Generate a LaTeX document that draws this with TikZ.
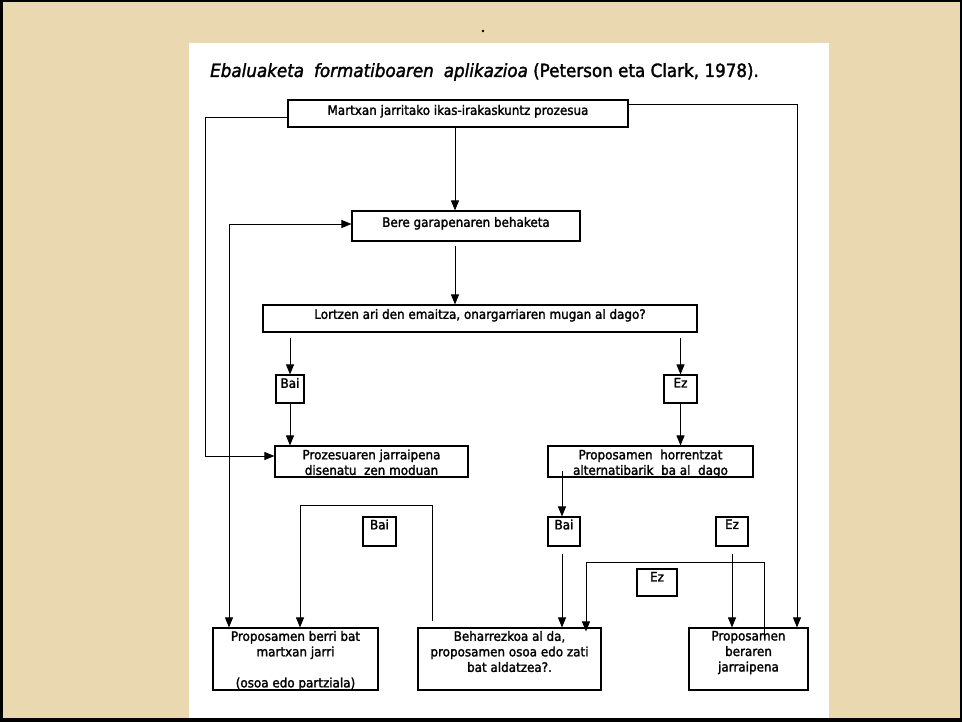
\documentclass[tikz,border=0pt]{standalone}
\usepackage{fontspec}
\setmainfont{DejaVu Sans}[FakeStretch=0.92,FakeBold=1.8]
\usetikzlibrary{arrows.meta}
\definecolor{parch}{RGB}{234,216,176}
\newcommand{\bt}[4][5pt]{\parbox[c][#3][t]{#2}{\centering\vspace*{#1}#4\par}}
\begin{document}
\begin{tikzpicture}[x=1pt,y=-1pt,
  box/.style={draw, line width=1.1pt, inner sep=0pt, fill=white, font=\fontsize{13}{15.5}\selectfont},
  arr/.style={draw, line width=0.9pt, -{Triangle[length=10pt,width=8pt]}},
  arrboth/.style={draw, line width=0.9pt, {Triangle[length=10pt,width=8pt]}-{Triangle[length=10pt,width=8pt]}}]
\useasboundingbox (0,0) rectangle (962,722);
\fill[parch] (0,0) rectangle (962,722);
\fill[white] (189,43) rectangle (829,719);
\draw[line width=2.5pt] (1.25,1.25) rectangle (960.75,720.75);
\fill[black] (0,718) rectangle (962,722);
\fill (483,31) circle (1.4pt);

\node[anchor=base west, inner sep=0pt, font=\fontsize{18.2}{21}\selectfont] (title) at (210,77)
  {\textit{Ebaluaketa\hspace{10pt}formatiboaren\hspace{10pt}aplikazioa} (Peterson eta Clark, 1978).};

% boxes
\node[box] (b1) at (458,113.5) {\bt{340pt}{27pt}{Martxan jarritako ikas-irakaskuntz prozesua}};
\node[box] (b2) at (466,226) {\bt[6pt]{228pt}{30pt}{Bere garapenaren behaketa}};
\node[box] (b3) at (480,318.5) {\bt[4pt]{434pt}{27pt}{Lortzen ari den emaitza, onargarriaren mugan al dago?}};
\node[box] (bai1) at (290,389) {\bt[3pt]{28pt}{28pt}{Bai}};
\node[box] (ez1) at (680.5,389) {\bt[3pt]{33pt}{28pt}{Ez}};
\node[box] (b6) at (371.5,461.5) {\bt[3.5pt]{193pt}{31pt}{Prozesuaren jarraipena\\disenatu\ \ zen moduan}};
\node[box] (b7) at (650.5,461.5) {\bt[3.5pt]{205pt}{31pt}{Proposamen\ \ horrentzat\\alternatibarik\ \ ba al\ \ dago}};
\node[box] (bai2) at (379.5,531.5) {\bt[2.5pt]{33pt}{29pt}{Bai}};
\node[box] (bai3) at (564,531.5) {\bt[2.5pt]{32pt}{29pt}{Bai}};
\node[box] (ez3) at (732,531.5) {\bt[2.5pt]{32pt}{29pt}{Ez}};
\node[box] (ez2) at (657,582.5) {\bt[3pt]{40pt}{27pt}{Ez}};
\node[box] (b12) at (295.5,659) {\bt[3pt]{165pt}{62pt}{Proposamen berri bat\\martxan jarri\\[15.5pt](osoa edo partziala)}};
\node[box] (b13) at (509.5,659) {\bt[3pt]{183pt}{62pt}{Beharrezkoa al da,\\proposamen osoa edo zati\\bat aldatzea?.}};
\node[box] (b14) at (748.5,659) {\bt[3pt]{119pt}{62pt}{Proposamen\\beraren\\jarraipena}};

% helper coordinates
\coordinate (xa) at (455,0);
\coordinate (L1) at (205,117);
\coordinate (L2) at (205,456);
\coordinate (R1) at (797,104);
\coordinate (K1) at (229,224);
\coordinate (J) at (562,0);
\coordinate (C1) at (432,505);
\coordinate (C2) at (300,505);
\coordinate (D1) at (764,562);
\coordinate (D2) at (586,562);

% connectors
\draw[arr] (b1.south -| xa) -- (b2.north -| xa);
\draw[arr, shorten <=4pt] (b2.south -| xa) -- (b3.north -| xa);
\draw[arr, shorten <=5pt] (b3.south -| bai1.north) -- (bai1.north);
\draw[arr, shorten <=5pt] (b3.south -| ez1.north) -- (ez1.north);
\draw[arr] (bai1.south) -- (b6.north -| bai1.south);
\draw[arr] (ez1.south) -- (b7.north -| ez1.south);
\draw[arr] (b1.west |- L1) -- (L1) -- (L2) -- (b6.west |- L2);
\draw[arr] (b1.east |- R1) -- (R1) -- (R1 |- b14.north);
\draw[arrboth] (K1 |- b12.north) -- (K1) -- (b2.west |- K1);
\draw[arr] ([yshift=7pt]J |- b7.south) -- (J |- bai3.north);
\draw[arr, shorten <=7pt] (J |- bai3.south) -- (J |- b13.north);
\draw[arr, shorten <=6pt] (C1 |- b13.north) -- (C1) -- (C2) -- (C2 |- b12.north);
\draw[arr, shorten <=7pt] (ez3.south) -- (ez3.south |- b14.north);
\draw[arr] ([yshift=-12pt]D1 |- b14.north) -- (D1) -- (D2) -- ([yshift=-4pt]D2 |- b13.north);
\end{tikzpicture}
\end{document}
